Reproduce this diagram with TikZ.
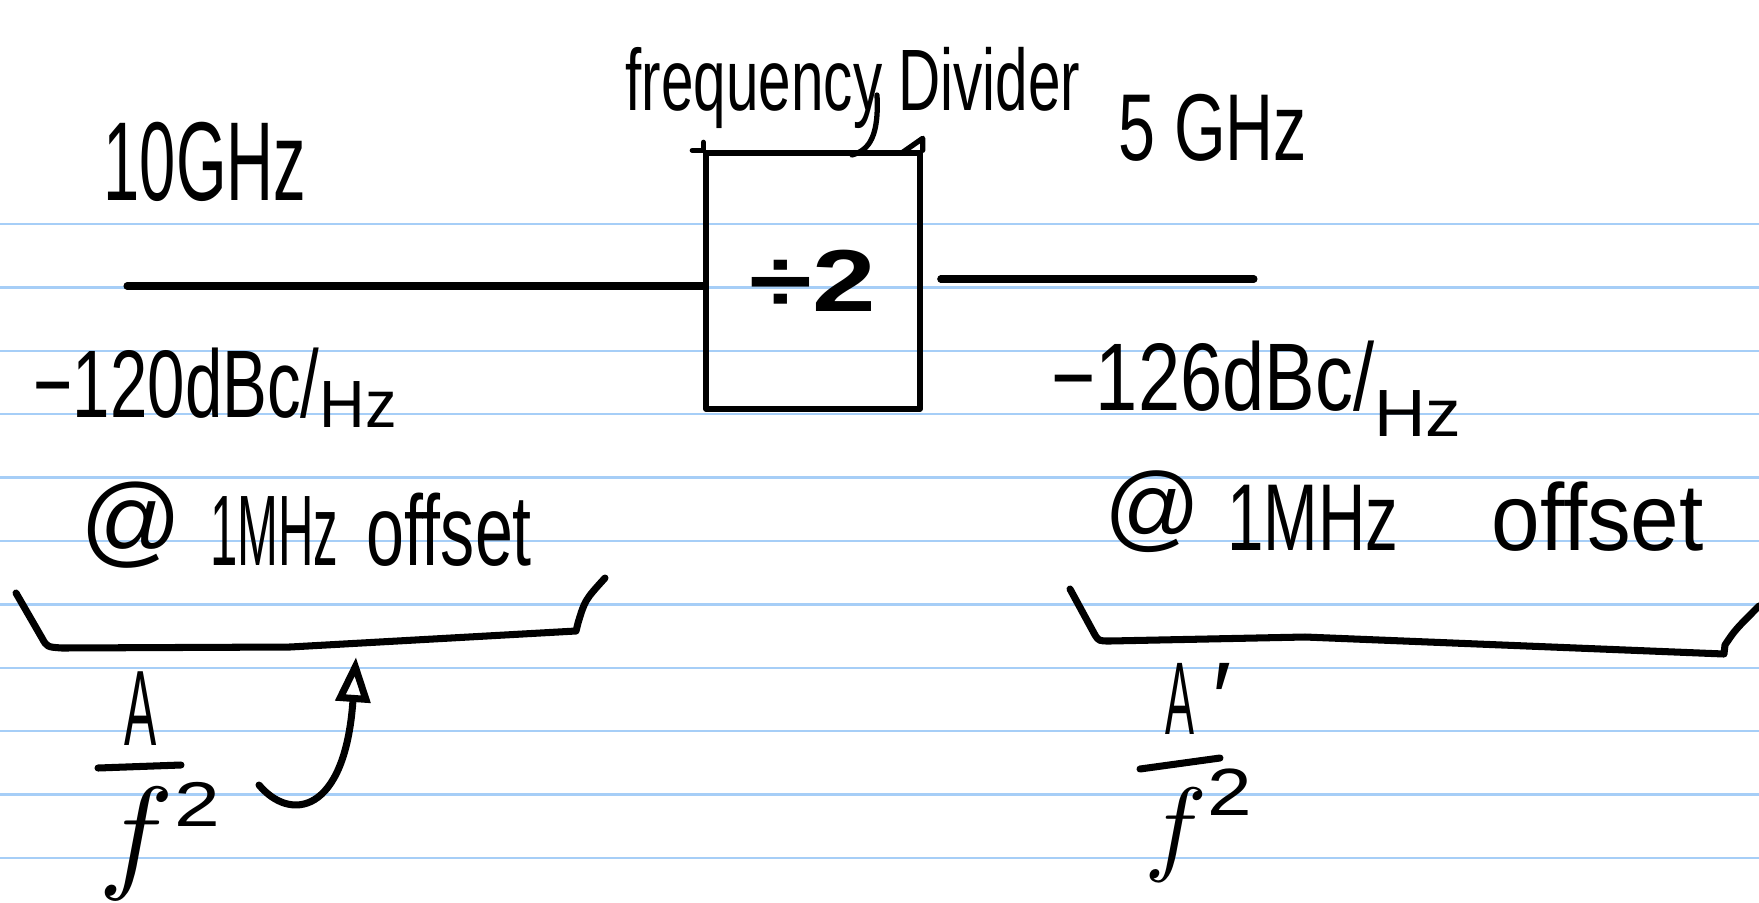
\documentclass[tikz,border=0pt]{standalone}
\usepackage{fontspec}
\setmainfont{Liberation Sans}
\usepackage{graphicx}
\usetikzlibrary{arrows.meta}
\definecolor{rulecol}{RGB}{166,206,247}
\newcommand{\hw}[3]{\scalebox{#1}[1]{\fontsize{#2}{#2}\selectfont #3}}
\newcommand{\smallhz}[2]{\raisebox{#1}{\scalebox{#2}[1]{\fontsize{19pt}{19pt}\selectfont Hz}}}
\tikzset{
  pen/.style={line width=2pt, line cap=round, line join=round},
  boxpen/.style={line width=1.5pt, line cap=round, line join=round},
  ruled/.style={rulecol, line width=0.7pt},
  lbl/.style={inner sep=0pt, anchor=base west},
}
\begin{document}
\begin{tikzpicture}[x=0.01cm,y=-0.01cm]
\useasboundingbox (0,0) rectangle (1759,902);
\fill[white] (0,0) rectangle (1759,902);
\foreach \k in {0,...,10} \draw[ruled] (0,{224+63.4*\k}) -- (1759,{224+63.4*\k});

% labels
\node[lbl] (f10) at (103,200) {\hw{0.58}{31.9pt}{10GHz}};
\node[lbl] (fdiv) at (625,110) {\hw{0.67}{24.8pt}{frequency Divider}};
\node[lbl] (f5) at (1118,160) {\hw{0.70}{27pt}{5 GHz}};

% divider box
\node[draw, boxpen, minimum width=2.14cm, minimum height=2.56cm, inner sep=0pt] (div) at (813,281) {\scalebox{1.3}[1]{\fontsize{25pt}{25pt}\selectfont\bfseries ÷2}};
\draw[boxpen] ([xshift=-0.11cm]div.north west) -- (div.north west) -- ([yshift=0.08cm]div.north west);
\draw[boxpen] ([xshift=-0.2cm,yshift=-0.02cm]div.north east) -- ([yshift=0.12cm]div.north east) -- (div.north east);
\draw[boxpen] (877,95) .. controls (879,135) and (870,150) .. (852,155);

% signal lines
\coordinate (inL) at (127,286);
\draw[pen] (inL) -- (inL -| div.west);
\coordinate (outL) at ([xshift=0.18cm]div.east);
\coordinate (outR) at (1254,279);
\draw[pen] (outL |- outR) -- (outR);

% phase noise labels
\node[lbl] (pnL) at (33,417) {\hw{0.70}{27.3pt}{−120dBc/\smallhz{-3pt}{1.35}}};
\node[lbl] (pnR) at (1051,410) {\hw{0.79}{27.3pt}{−126dBc/\smallhz{-7.5pt}{1.35}}};
\node[lbl] (offL) at (80,565) {\fontsize{28.5pt}{28.5pt}\selectfont\raisebox{3pt}{@} \hw{0.49}{28.5pt}{1MHz} \hw{0.68}{28.5pt}{offset}};
\node[lbl] (offR) at (1104,550) {\fontsize{27pt}{27pt}\selectfont\raisebox{3pt}{@} \hw{0.69}{27pt}{1MHz}\hspace{19pt} \hw{0.92}{27pt}{offset}};

% brackets
\draw[pen] (16,593) -- (42,638) .. controls (47,647) .. (62,648) -- (290,647) -- (576,631) -- (578,623) .. controls (585,600) .. (605,578);
\draw[pen] (1070,589) -- (1095,635) .. controls (1099,641) .. (1110,641) -- (1305,637) -- (1724,654) -- (1725,645) .. controls (1735,630) .. (1759,606);

% left fraction
\node[inner sep=0pt, anchor=base] (AL) at (141,745) {\hw{0.45}{30.5pt}{A}};
\coordinate (bL1) at (98,768); \coordinate (bL2) at (181,765);
\draw[pen] (bL1) -- (bL2);
\node[lbl] (fL) at (98,875) {\scalebox{3.6}{$f$}\raisebox{13.7pt}{\hw{1.3}{18pt}{2}}};

% curved arrow
\coordinate (arS) at (259,785);
\coordinate (arE) at (356,657);
\draw[pen, -{Triangle[open, length=0.45cm, width=0.34cm, line width=2pt]}] (arS) .. controls (290,822) and (345,815) .. (arE);

% right fraction
\node[lbl] (AR) at (1165,734) {\hw{0.42}{29.4pt}{A}\hspace{5pt}\hw{1}{29.4pt}{′}};
\coordinate (bR1) at (1140,769); \coordinate (bR2) at (1220,758);
\draw[pen] (bR1) -- (bR2);
\node[lbl] (fR) at (1144,861) {\scalebox{3.0}{$f$}\raisebox{13pt}{\hw{1.2}{19pt}{2}}};
\end{tikzpicture}
\end{document}
